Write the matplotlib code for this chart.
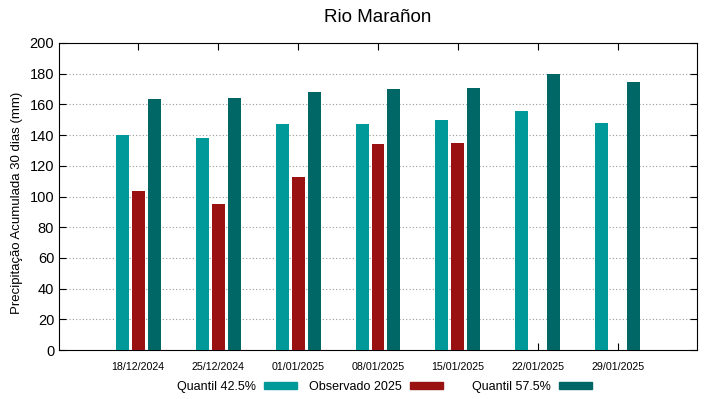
import numpy as np
import matplotlib
matplotlib.use("Agg")
import matplotlib.pyplot as plt
import matplotlib.transforms as mtrans
from matplotlib.patches import Patch

plt.rcParams['font.family'] = ['Liberation Sans', 'DejaVu Sans']

datas = ['18/12/2024', '25/12/2024', '01/01/2025', '08/01/2025',
         '15/01/2025', '22/01/2025', '29/01/2025']
q425 = [140, 138, 147, 147, 149.6, 155.7, 148]
obs2025 = [103.6, 95, 113, 134, 135, np.nan, np.nan]
q575 = [163.5, 164, 168, 170, 170.7, 180, 174.4]

cor_q425 = '#009999'
cor_obs = '#991111'
cor_q575 = '#006666'

fig = plt.figure(figsize=(7.19, 3.99), dpi=100)
ax = fig.add_axes([59/719, 1 - 350/399, (697-59)/719, (350-43)/399])

x = np.arange(len(datas))
w = 0.1625
d = 0.2
ax.bar(x - d, q425, w, color=cor_q425, zorder=3)
ax.bar(x, obs2025, w, color=cor_obs, zorder=3)
ax.bar(x + d, q575, w, color=cor_q575, zorder=3)

ax.set_xlim(-0.99, 6.99)
ax.set_ylim(0, 200)
ax.set_yticks(range(0, 201, 20))
ax.set_xticks(x)
ax.set_xticklabels(datas, fontsize=7.7)
# rotulos do eixo x um pouco deslocados para a direita, como no original
desloc = mtrans.ScaledTranslation(6/100, 0, fig.dpi_scale_trans)
for lb in ax.get_xticklabels():
    lb.set_transform(lb.get_transform() + desloc)
ax.tick_params(axis='y', labelsize=10.5, direction='in', right=True, length=5)
ax.tick_params(axis='x', direction='in', top=True, length=5, pad=9)
ax.grid(axis='y', linestyle=(0, (1, 2)), color='#999999', linewidth=0.8, zorder=0)
for s in ax.spines.values():
    s.set_linewidth(0.8)

ax.set_ylabel('Precipitação Acumulada 30 dias (mm)', fontsize=9.5)
ax.yaxis.set_label_coords(-0.056, 0.479)
fig.text(378/719, 1 - 17/399, 'Rio Marañon', fontsize=13.5, ha='center', va='center')

labels = ['Quantil 42.5%', 'Observado 2025', 'Quantil 57.5%']
cores = [cor_q425, cor_obs, cor_q575]
x_leg = [177, 309, 472]
for lab, cor, xl in zip(labels, cores, x_leg):
    fig.legend([Patch(color=cor)], [lab], loc='center left',
               bbox_to_anchor=(xl/719, 1 - 387/399), frameon=False,
               markerfirst=False, fontsize=9, borderpad=0, borderaxespad=0,
               handlelength=2.64, handleheight=0.4, handletextpad=0.64)

fig.savefig('out.png', dpi=100)
